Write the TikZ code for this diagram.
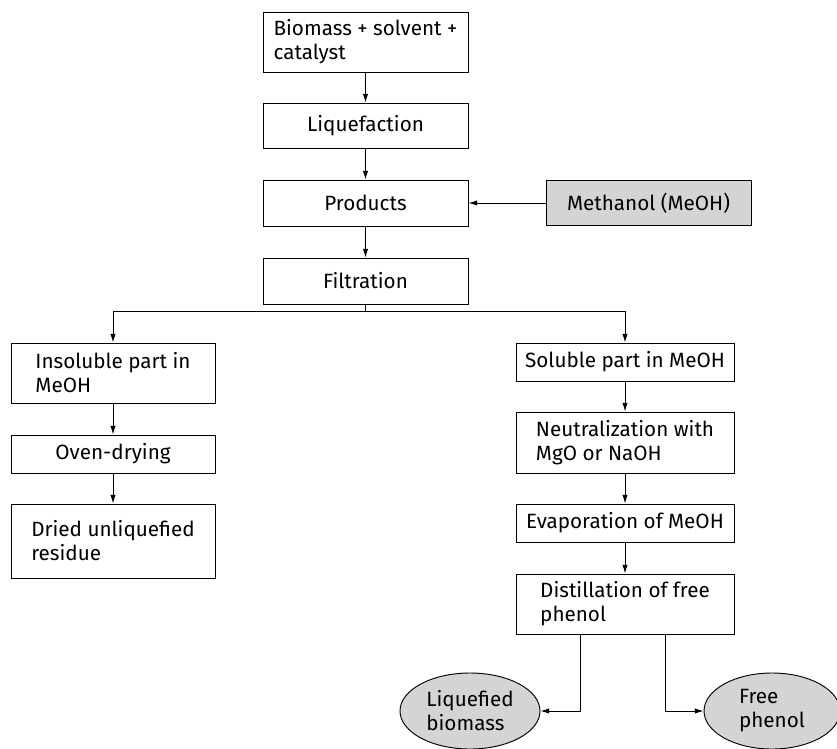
\documentclass[tikz,border=0pt]{standalone}
\usepackage{fontspec}
\setmainfont{Fira Sans}
\usetikzlibrary{arrows.meta,shapes.geometric,calc}
\definecolor{boxgray}{RGB}{211,212,214}
\begin{document}
\begin{tikzpicture}[x=0.75pt,y=-0.75pt,
  font=\fontsize{15.5}{18}\selectfont,
  box/.style={draw, line width=0.7pt, inner xsep=4pt, inner ysep=0pt, align=left},
  oval/.style={ellipse, draw, line width=0.7pt, fill=boxgray, inner sep=0pt, align=left},
  arr/.style={line width=0.7pt, -{Latex[length=6.5pt,width=4pt]}}]
\useasboundingbox (0,0) rectangle (837,748);
% main column
\node[box, minimum width=153.75pt, minimum height=45pt] (bio) at (365.5,42) {Biomass + solvent +\\catalyst};
\node[box, minimum width=153.75pt, minimum height=33.75pt] (liq) at (365.5,125.5) {Liquefaction};
\node[box, minimum width=153.75pt, minimum height=34.5pt] (prod) at (365.5,203) {Products};
\node[box, minimum width=153.75pt, minimum height=34.5pt] (filt) at (365.5,281) {Filtration};
\node[box, fill=boxgray, minimum width=153.75pt, minimum height=33.75pt] (meth) at (648.5,203) {Methanol (MeOH)};
% left column
\node[box, minimum width=153pt, minimum height=45pt] (insol) at (113,373) {Insoluble part in\\MeOH};
\node[box, minimum width=153pt, minimum height=28.5pt] (oven) at (113,454) {Oven-drying};
\node[box, minimum width=153pt, minimum height=55.5pt] (dried) at (113,541) {Dried unliquefied\\residue};
% right column
\node[box, minimum width=163.5pt, minimum height=28.5pt] (sol) at (625,362) {Soluble part in MeOH};
\node[box, minimum width=163.5pt, minimum height=45.75pt] (neut) at (625,442.5) {Neutralization with\\MgO or NaOH};
\node[box, minimum width=163.5pt, minimum height=28.5pt] (evap) at (625,523) {Evaporation of MeOH};
\node[box, minimum width=163.5pt, minimum height=45pt] (dist) at (625,604) {Distillation of free\\phenol};
% products
\node[oval, minimum width=105pt, minimum height=57pt] (lbio) at (470,711) {Liquefied\\biomass};
\node[oval, minimum width=102pt, minimum height=57pt] (fphen) at (772,711) {Free\\phenol};
% connectors
\draw[arr] (bio) -- (liq);
\draw[arr] (liq) -- (prod);
\draw[arr] (prod) -- (filt);
\draw[arr] (meth) -- (prod);
\draw[arr] (filt.south) -- ++(0,7) -| (insol.north);
\draw[arr] (filt.south) -- ++(0,7) -| (sol.north);
\draw[arr] (insol) -- (oven);
\draw[arr] (oven) -- (dried);
\draw[arr] (sol) -- (neut);
\draw[arr] (neut) -- (evap);
\draw[arr] (evap) -- (dist);
\draw[arr] ([xshift=-33.75pt]dist.south) |- (lbio.east);
\draw[arr] ([xshift=30pt]dist.south) |- (fphen.west);
\end{tikzpicture}
\end{document}
